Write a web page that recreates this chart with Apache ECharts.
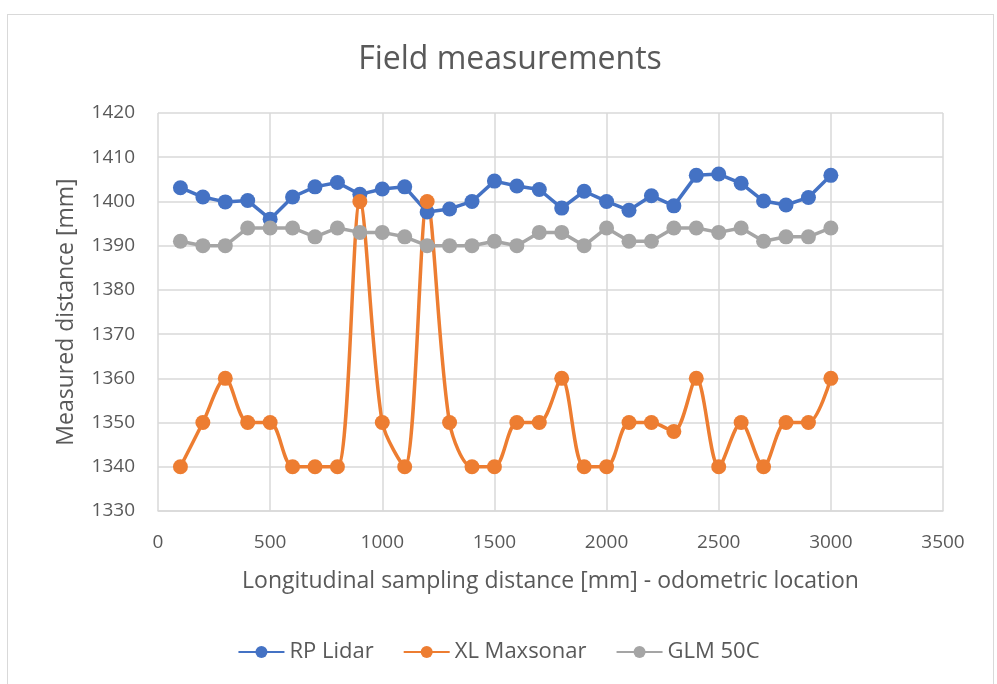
<!DOCTYPE html>
<html>
<head>
<meta charset="utf-8">
<script src="https://cdn.jsdelivr.net/npm/echarts@6/dist/echarts.min.js"></script>
<style>
  html, body { margin: 0; padding: 0; background: #fff; }
  #chart { width: 997px; height: 684px; }
  #frame {
    position: absolute; left: 7px; top: 14px; width: 985px; height: 700px;
    border: 1px solid #d9d9d9; pointer-events: none;
  }
</style>
</head>
<body>
<div id="chart"></div>
<div id="frame"></div>
<script>
// sampling positions [mm]
var distances = [100, 200, 300, 400, 500, 600, 700, 800, 900, 1000,
  1100, 1200, 1300, 1400, 1500, 1600, 1700, 1800, 1900, 2000,
  2100, 2200, 2300, 2400, 2500, 2600, 2700, 2800, 2900, 3000];

var rpLidar = [1403.1, 1401.0, 1399.9, 1400.2, 1396.0, 1401.0, 1403.3, 1404.3, 1401.6, 1402.8,
  1403.3, 1397.6, 1398.3, 1400.0, 1404.6, 1403.5, 1402.7, 1398.5, 1402.3, 1400.0,
  1398.0, 1401.3, 1399.0, 1405.9, 1406.2, 1404.1, 1400.1, 1399.2, 1400.9, 1405.9];

var xlMaxsonar = [1340, 1350, 1360, 1350, 1350, 1340, 1340, 1340, 1400, 1350,
  1340, 1400, 1350, 1340, 1340, 1350, 1350, 1360, 1340, 1340,
  1350, 1350, 1348, 1360, 1340, 1350, 1340, 1350, 1350, 1360];

var glm50c = [1391, 1390, 1390, 1394, 1394, 1394, 1392, 1394, 1393, 1393,
  1392, 1390, 1390, 1390, 1391, 1390, 1393, 1393, 1390, 1394,
  1391, 1391, 1394, 1394, 1393, 1394, 1391, 1392, 1392, 1394];

var seriesNames = ["RP Lidar", "XL Maxsonar", "GLM 50C"];
var seriesColors = ["#4472C4", "#ED7D31", "#A5A5A5"];

function pairs(values) {
  return distances.map(function (d, i) {
    return [d, values[i]];
  });
}

var textColor = "#595959";
var gridColor = "#d9d9d9";
var font = "Open Sans";

function lineSeries(idx, values, smooth) {
  return {
    name: seriesNames[idx],
    type: "line",
    data: pairs(values),
    smooth: smooth,
    symbol: "circle",
    symbolSize: 15,
    color: seriesColors[idx],
    lineStyle: { width: 3.5 },
    itemStyle: { color: seriesColors[idx] },
  };
}

var myChart = echarts.init(document.getElementById("chart"), null, { renderer: "canvas" });

var option = {
  animation: false,
  title: {
    text: "Field measurements",
    top: 39,
    left: 505,
    textAlign: "center",
    textStyle: { color: textColor, fontSize: 32, fontWeight: "normal", fontFamily: font },
  },
  grid: {
    left: 158,
    right: 54,
    top: 113,
    bottom: 173,
  },
  legend: {
    bottom: 16,
    left: "center",
    itemWidth: 46,
    itemHeight: 15,
    itemGap: 29,
    textStyle: { color: textColor, fontSize: 22, fontFamily: font },
    data: seriesNames,
  },
  xAxis: {
    type: "value",
    min: 0,
    max: 3500,
    interval: 500,
    name: "Longitudinal sampling distance [mm] - odometric location",
    nameLocation: "middle",
    nameGap: 59,
    nameTextStyle: { color: textColor, fontSize: 23, fontFamily: font },
    axisLine: { show: true, lineStyle: { color: gridColor, width: 1.5 } },
    axisTick: { show: false },
    axisLabel: {
      color: textColor, fontSize: 19, fontFamily: font, margin: 22,
      formatter: function (v) { return String(v); },
    },
    splitLine: { show: true, lineStyle: { color: gridColor, width: 1.5 } },
  },
  yAxis: {
    type: "value",
    min: 1330,
    max: 1420,
    interval: 10,
    name: "Measured distance [mm]",
    nameLocation: "middle",
    nameGap: 80,
    nameTextStyle: { color: textColor, fontSize: 23, fontFamily: font },
    axisLine: { show: false },
    axisTick: { show: false },
    axisLabel: {
      color: textColor, fontSize: 19, fontFamily: font, margin: 23,
      formatter: function (v) { return String(v); },
    },
    splitLine: { show: true, lineStyle: { color: gridColor, width: 1.5 } },
  },
  series: [
    lineSeries(0, rpLidar, false),
    lineSeries(1, xlMaxsonar, 0.3),
    lineSeries(2, glm50c, false),
  ],
};

myChart.setOption(option);
</script>
</body>
</html>
